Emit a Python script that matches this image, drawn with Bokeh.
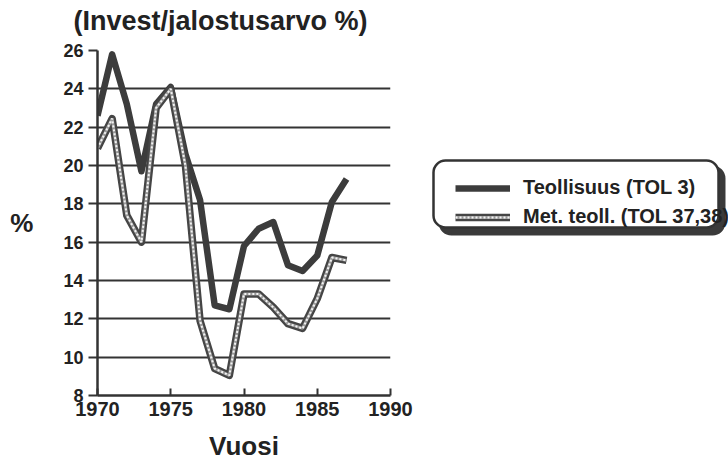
from bokeh.plotting import figure
from bokeh.layouts import row
from bokeh.models import Range1d, FixedTicker, BoxAnnotation, Legend, LegendItem, Title
from bokeh.embed import file_html
from bokeh.resources import INLINE

# ---- data ----
years = [1970, 1971, 1972, 1973, 1974, 1975, 1976, 1977, 1978,
         1979, 1980, 1981, 1982, 1983, 1984, 1985, 1986, 1987]
teollisuus = [22.6, 25.8, 23.2, 19.7, 23.2, 24.1, 20.6, 18.2, 12.7,
              12.5, 15.8, 16.7, 17.05, 14.8, 14.5, 15.3, 18.1, 19.3]
met_teoll = [20.9, 22.45, 17.4, 16.0, 23.0, 24.0, 20.0, 11.9, 9.4,
             9.05, 13.3, 13.3, 12.6, 11.75, 11.5, 13.05, 15.2, 15.05]
x_ticks = [1970, 1975, 1980, 1985, 1990]
y_ticks = [8, 10, 12, 14, 16, 18, 20, 22, 24, 26]
series_names = ["Teollisuus (TOL 3)", "Met. teoll. (TOL 37,38)"]
title_text = "(Invest/jalostusarvo %)"
x_title = "Vuosi"
y_title = "%"

FONT = "Liberation Sans"
INK = "#222222"
DARK = "#333333"
NAN = float("nan")

# ---------------- main chart ----------------
p = figure(frame_width=293, frame_height=345, title=None,
           x_range=Range1d(1970, 1990), y_range=Range1d(8, 26),
           output_backend="svg", toolbar_location=None,
           min_border_left=97, min_border_right=30,
           min_border_top=50, min_border_bottom=65)
p.outline_line_color = None

# small spacer between frame and title, then the title itself
p.add_layout(Title(text=" ", text_font_size="10px", standoff=2), "above")
p.add_layout(Title(text=title_text, align="left", offset=-24, standoff=0,
                   vertical_align="bottom", text_font=FONT, text_font_style="bold",
                   text_font_size="27px", text_color=INK), "above")

p.xgrid.visible = False
p.ygrid.ticker = FixedTicker(ticks=y_ticks)
p.ygrid.grid_line_color = DARK
p.ygrid.grid_line_width = 2

for ax in p.xaxis:
    ax.ticker = FixedTicker(ticks=x_ticks)
    ax.axis_line_width = 2.5
    ax.axis_line_color = DARK
    ax.major_tick_in = 7
    ax.major_tick_out = 0
    ax.major_tick_line_width = 2
    ax.major_tick_line_color = DARK
    ax.minor_tick_line_color = None
    ax.major_label_text_font = FONT
    ax.major_label_text_font_style = "bold"
    ax.major_label_text_font_size = "20px"
    ax.major_label_text_color = INK
    ax.major_label_text_line_height = 1.0
    ax.major_label_standoff = 6
    ax.axis_label = x_title
    ax.axis_label_text_font = FONT
    ax.axis_label_text_font_style = "bold"
    ax.axis_label_text_font_size = "26px"
    ax.axis_label_text_color = INK
    ax.axis_label_text_line_height = 1.0
    ax.axis_label_standoff = 12

for ax in p.yaxis:
    ax.ticker = FixedTicker(ticks=y_ticks)
    ax.axis_line_width = 2.5
    ax.axis_line_color = DARK
    ax.major_tick_in = 0
    ax.major_tick_out = 9
    ax.major_tick_line_width = 2
    ax.major_tick_line_color = DARK
    ax.minor_tick_line_color = None
    ax.major_label_text_font = FONT
    ax.major_label_text_font_style = "bold"
    ax.major_label_text_font_size = "18px"
    ax.major_label_text_color = INK
    ax.major_label_standoff = 5
    ax.axis_label = y_title
    ax.axis_label_orientation = "horizontal"
    ax.axis_label_text_font = FONT
    ax.axis_label_text_font_style = "bold"
    ax.axis_label_text_font_size = "26px"
    ax.axis_label_text_color = INK
    ax.axis_label_standoff = 27

SOLID = dict(line_color="#3c3c3c", line_width=6.5, line_join="round")
OUTER = dict(line_color="#454545", line_width=7.5, line_join="round")
MID = dict(line_color="#9a9a9a", line_width=3)
CORE = dict(line_color="#f4f4f4", line_width=2, line_dash="2 2")

p.line(years, teollisuus, **SOLID)
p.line(years, met_teoll, **OUTER)
p.line(years, met_teoll, **MID)
p.line(years, met_teoll, **CORE)

# ---------------- legend panel (frame aligned with main frame) ----------------
q = figure(width=308, height=460, x_range=Range1d(0, 1), y_range=Range1d(0, 1),
           output_backend="svg", toolbar_location=None,
           x_axis_location=None, y_axis_location=None, min_border=0)
q.outline_line_color = None
q.grid.visible = False

q.add_layout(BoxAnnotation(left=19, right=304, top=226, bottom=158,
                           left_units="screen", right_units="screen",
                           top_units="screen", bottom_units="screen",
                           fill_color="#3a3a3a", fill_alpha=1, line_color="#3a3a3a",
                           line_alpha=1, line_width=2, border_radius=12))
q.add_layout(BoxAnnotation(left=13, right=298, top=232, bottom=165,
                           left_units="screen", right_units="screen",
                           top_units="screen", bottom_units="screen",
                           fill_color="white", fill_alpha=1, line_color=DARK,
                           line_alpha=1, line_width=2.5, border_radius=12))

k1 = q.line([NAN], [NAN], **SOLID)
k2a = q.line([NAN], [NAN], **OUTER)
k2b = q.line([NAN], [NAN], **MID)
k2c = q.line([NAN], [NAN], **CORE)

legend = Legend(items=[LegendItem(label=series_names[0], renderers=[k1]),
                       LegendItem(label=series_names[1], renderers=[k2a, k2b, k2c])],
                location=(35, 164), padding=0, margin=0, spacing=6,
                glyph_width=55, glyph_height=22, label_height=22, label_standoff=13,
                border_line_alpha=0, background_fill_alpha=0,
                label_text_font=FONT, label_text_font_style="bold",
                label_text_font_size="20px", label_text_color=INK)
q.add_layout(legend)

layout = row(p, q, spacing=0)
open("out.html", "w").write(file_html(layout, INLINE))
